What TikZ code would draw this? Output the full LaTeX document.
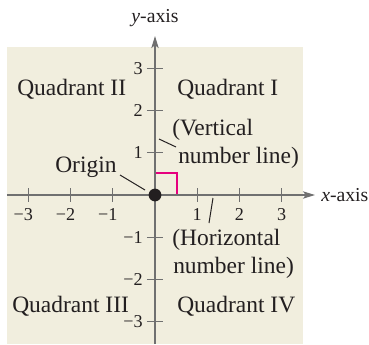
\documentclass[tikz,border=0pt]{standalone}
\usepackage{fontspec}
\setmainfont{Liberation Serif}
\usetikzlibrary{arrows.meta}
\definecolor{bg}{RGB}{241,238,222}
\definecolor{axisgray}{RGB}{112,112,112}
\definecolor{txt}{RGB}{35,31,32}
\definecolor{mag}{RGB}{230,0,126}
\begin{document}
\begin{tikzpicture}[x=0.75pt,y=-0.75pt,
  axis/.style={draw=axisgray, line width=1.1pt, -{Stealth[length=9pt,width=5.5pt,inset=2pt]}},
  tickmark/.style={draw=axisgray, line width=0.8pt},
  lbl/.style={text=txt, font=\fontsize{17.6}{20}\selectfont, inner sep=0pt},
  ticklbl/.style={text=txt, font=\fontsize{13.6}{15}\selectfont, inner sep=0pt},
  axlbl/.style={text=txt, font=\fontsize{14.8}{17}\selectfont, inner sep=0pt},
  leader/.style={draw=txt, line width=0.75pt}]
\useasboundingbox (0,0) rectangle (369,344);
\fill[bg] (7,47) rectangle (303,344);
\coordinate (O) at (155,195);
\coordinate (xl) at (7,195);
\coordinate (xr) at (315,195);
\coordinate (yb) at (155,344);
\coordinate (yt) at (155,36);
% right angle marker
\draw[mag, line width=0.9pt] (155,173) -- (177,173) -- (177,195);
% axes
\draw[axis] (xl) -- (xr);
\draw[axis] (yb) -- (yt);
% ticks and labels
\foreach \i/\t in {-3/\llap{−}3,-2/\llap{−}2,-1/\llap{−}1,1/1,2/2,3/3}{
  \draw[tickmark] ({155+42.2*\i},188) -- ({155+42.2*\i},202);
  \node[ticklbl, anchor=base] (xt\i) at ({155+42.2*\i},220) {\t};
}
\foreach \j/\t in {-3/−3,-2/−2,-1/−1,1/1,2/2,3/3}{
  \draw[tickmark] (147,{195-42.2*\j}) -- (163,{195-42.2*\j});
  \node[ticklbl, anchor=east] (yt\j) at (143,{195-42.2*\j}) {\t};
}
% axis labels
\node[axlbl, anchor=base] (ylab) at (155,22) {\textit{y}-axis};
\node[axlbl, anchor=base west] (xlab) at (321,201) {\textit{x}-axis};
% quadrant labels
\node[lbl, anchor=base west] (q2) at (17,95) {Quadrant II};
\node[lbl, anchor=base west] (q1) at (177,95) {Quadrant I};
\node[lbl, anchor=base west] (q3) at (12,312) {Quadrant III};
\node[lbl, anchor=base west] (q4) at (177,312) {Quadrant IV};
% other labels
\node[lbl, anchor=base west] (v1) at (172,135) {(Vertical};
\node[lbl, anchor=base west] (v2) at (178,163) {number line)};
\node[lbl, anchor=base west] (orig) at (55,172) {Origin};
\node[lbl, anchor=base west] (h1) at (172,245) {(Horizontal};
\node[lbl, anchor=base west] (h2) at (173,273) {number line)};
% leaders
\coordinate (va) at (159,139);
\coordinate (vb) at (176,147);
\coordinate (oa) at (120,175);
\coordinate (ob) at (145,190);
\coordinate (ha) at (213,198);
\coordinate (hb) at (209,223);
\draw[leader] (va) -- (vb);
\draw[leader] (oa) -- (ob);
\draw[leader] (ha) -- (hb);
% origin dot
\fill[txt] (O) circle[radius=4.8pt];
\end{tikzpicture}
\end{document}
